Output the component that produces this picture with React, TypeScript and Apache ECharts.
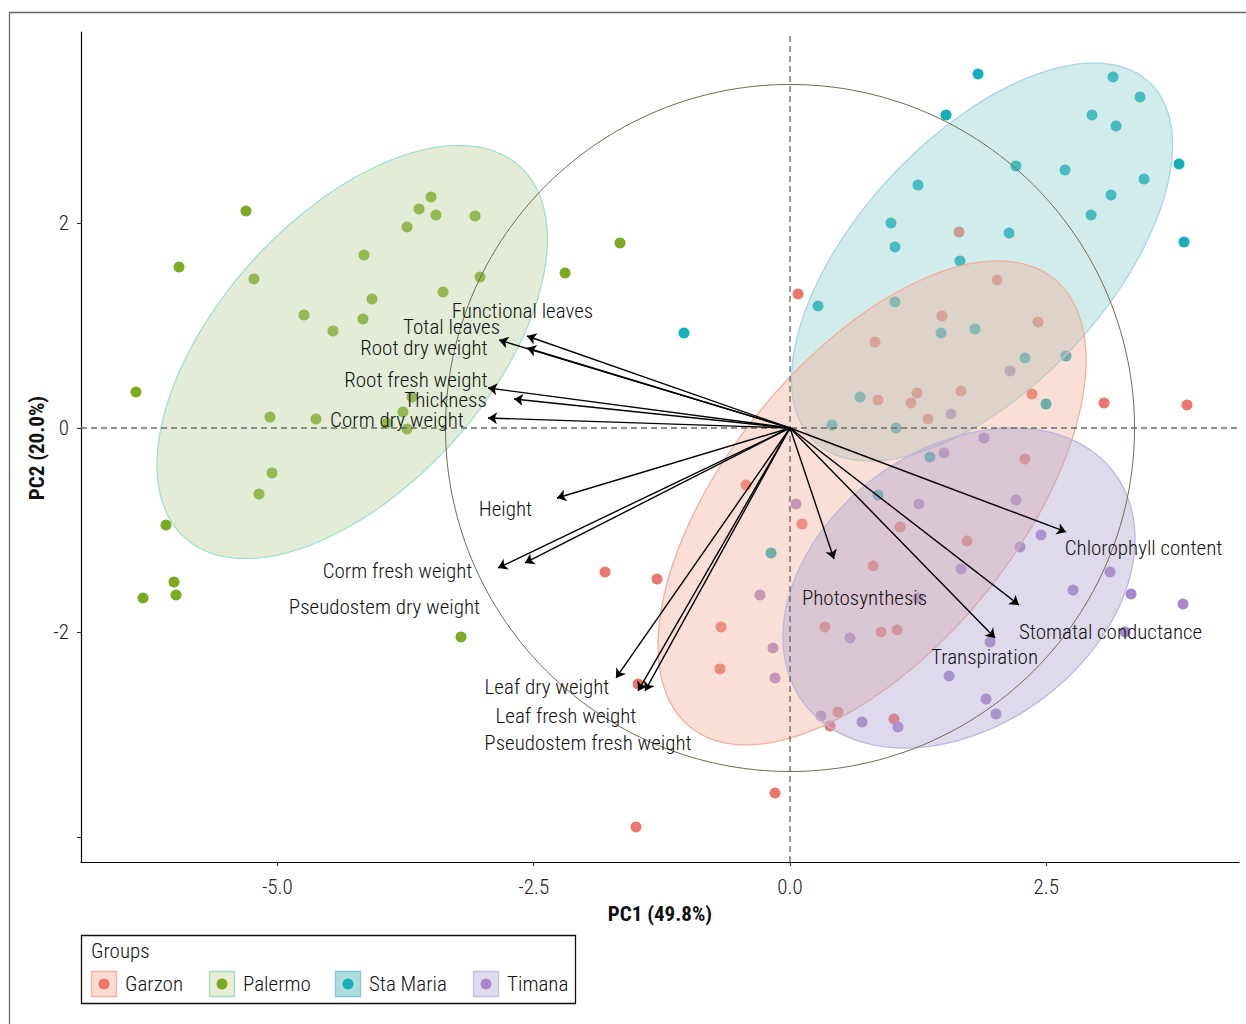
import { useEffect, useRef } from "react";
import * as echarts from "echarts";

// ---- groups -------------------------------------------------------------
const groupNames = ["Garzon", "Palermo", "Sta Maria", "Timana"];
const pointColors = ["#EB7770", "#7DAA24", "#16AFB8", "#A987CC"];

// PCA scores [PC1, PC2] per group
const garzonScores: number[][] = [
  [0.078, 1.311], [1.648, 1.917], [2.019, 1.447], [1.482, 1.095], [2.419, 1.037],
  [0.829, 0.841], [1.239, 0.342], [0.858, 0.274], [1.18, 0.245], [1.668, 0.362],
  [2.36, 0.333], [1.346, 0.088], [3.063, 0.245], [3.872, 0.225], [2.292, -0.303],
  [0.117, -0.939], [1.073, -0.968], [1.726, -1.105], [0.81, -1.35], [-0.429, -0.557],
  [-1.804, -1.408], [-1.297, -1.477], [-0.673, -1.946], [0.341, -1.946], [0.888, -1.995],
  [1.044, -1.976], [-0.683, -2.357], [-1.482, -2.504], [0.468, -2.778], [0.39, -2.914],
  [1.014, -2.846], [-0.146, -3.57], [-1.502, -3.902],
];
const palermoScores: number[][] = [
  [-5.306, 2.122], [-5.959, 1.575], [-6.379, 0.352], [-5.228, 1.457], [-3.501, 2.259],
  [-3.618, 2.142], [-3.453, 2.083], [-3.072, 2.073], [-3.735, 1.966], [-4.155, 1.692],
  [-3.023, 1.477], [-3.384, 1.33], [-4.077, 1.262], [-4.74, 1.105], [-4.165, 1.066],
  [-4.457, 0.949], [-5.072, 0.108], [-4.623, 0.088], [-3.775, 0.156], [-3.931, 0.049],
  [-3.735, -0.01], [-3.687, 0.303], [-2.194, 1.516], [-1.658, 1.809], [-5.052, -0.44],
  [-5.179, -0.645], [-6.086, -0.949], [-6.008, -1.506], [-6.31, -1.663], [-5.988, -1.633],
  [-3.209, -2.044],
];
const staMariaScores: number[][] = [
  [1.834, 3.462], [3.15, 3.433], [3.414, 3.237], [1.522, 3.061], [2.945, 3.061],
  [3.18, 2.954], [2.204, 2.562], [2.682, 2.523], [3.794, 2.582], [1.248, 2.377],
  [3.453, 2.435], [3.131, 2.279], [2.936, 2.083], [0.985, 2.005], [1.024, 1.77],
  [2.136, 1.907], [3.843, 1.819], [1.658, 1.633], [-1.034, 0.929], [0.273, 1.193],
  [1.024, 1.232], [1.473, 0.929], [1.804, 0.968], [2.292, 0.685], [2.692, 0.704],
  [0.683, 0.303], [2.497, 0.235], [0.41, 0.029], [1.034, 0.0], [1.365, -0.284],
  [0.858, -0.655], [-0.185, -1.222],
];
const timanaScores: number[][] = [
  [2.146, 0.557], [1.57, 0.137], [1.892, -0.098], [1.502, -0.245], [2.204, -0.704],
  [1.258, -0.743], [0.059, -0.743], [2.448, -1.046], [2.243, -1.164], [3.121, -1.408],
  [2.76, -1.584], [3.326, -1.623], [3.833, -1.721], [1.668, -1.379], [-0.293, -1.633],
  [1.248, -1.663], [0.585, -2.054], [-0.166, -2.152], [1.951, -2.093], [-0.146, -2.445],
  [1.551, -2.425], [1.912, -2.65], [2.009, -2.797], [0.302, -2.817], [0.702, -2.875],
  [1.053, -2.924], [3.267, -1.995],
];
const groupScores = [garzonScores, palermoScores, staMariaScores, timanaScores];

// ---- variable loadings (arrows) ----------------------------------------
const variableNames = [
  "Functional leaves", "Total leaves", "Root dry weight", "Root fresh weight",
  "Thickness", "Corm dry weight", "Height", "Corm fresh weight",
  "Pseudostem dry weight", "Leaf dry weight", "Leaf fresh weight",
  "Pseudostem fresh weight", "Photosynthesis", "Chlorophyll content",
  "Stomatal conductance", "Transpiration",
];
const loadingPC1 = [
  -2.565, -2.838, -2.565, -2.945, -2.692, -2.945, -2.273, -2.848,
  -2.585, -1.697, -1.482, -1.414, 0.429, 2.692, 2.233, 2.0,
];
const loadingPC2 = [
  0.9, 0.861, 0.782, 0.391, 0.284, 0.098, -0.685, -1.369,
  -1.32, -2.445, -2.572, -2.572, -1.281, -1.017, -1.731, -2.054,
];
// where each variable name is written (text centre, PC units)
const labelPC1 = [
  -2.609, -3.301, -3.57, -3.648, -3.36, -3.833, -2.775, -3.828,
  -3.955, -2.37, -2.185, -1.97, 0.727, 3.448, 3.126, 1.897,
];
const labelPC2 = [
  1.144, 0.988, 0.782, 0.469, 0.274, 0.078, -0.792, -1.399,
  -1.751, -2.533, -2.817, -3.081, -1.663, -1.174, -1.995, -2.24,
];

// ---- group ellipses: centre and covariance [sxx, sxy, syy] ------------
const ellipseCentre = [
  [0.8, -0.733], [-4.27, 0.743], [1.873, 1.623], [1.648, -1.565],
];
const ellipseCov = [
  [4.356, 2.909, 5.602], [3.625, 2.102, 4.08], [3.452, 2.127, 3.788], [2.947, 0.824, 2.449],
];
const ellipseOrder = [2, 0, 3, 1];
const ellipseFill = [
  "rgba(240,175,152,0.4)", "rgba(183,208,153,0.4)",
  "rgba(142,207,207,0.4)", "rgba(172,162,207,0.4)",
];
const ellipseStroke = ["#EFAF9C", "#A3DECF", "#A6D4E6", "#BEB6DD"];

const circleRadius = 3.36;

// ---- axes ---------------------------------------------------------------
const xMin = -6.915;
const xMax = 4.379;
const yMin = -4.245;
const yMax = 3.873;
const xTicks = [-5, -2.5, 0, 2.5];
const yTicks = [-4, -2, 0, 2];
const yTickLabels = [-2, 0, 2];

const legendKeyFill = ["#F9DDD3", "#E3EFD6", "#AEDFE0", "#E0DBEE"];
const legendKeyStroke = ["#F2B5A3", "#A6DDC8", "#82C6DC", "#C4BCE2"];

const FONT = '"Roboto Condensed", "Liberation Sans Narrow", "Arial Narrow", sans-serif';
const TEXT_SIZE = 21;
const TEXT_WEIGHT = 300;

export default function App() {
  const ref = useRef<HTMLDivElement>(null);

  useEffect(() => {
    if (!ref.current) return;
    const chart = echarts.init(ref.current, null, { renderer: "svg" });

    const scatterSeries = groupNames.map((name, g) => ({
      type: "scatter",
      name,
      data: groupScores[g],
      symbol: "circle",
      symbolSize: 11,
      itemStyle: { color: pointColors[g], opacity: 1 },
      z: 2,
      silent: true,
    }));

    const ellipseSeries = {
      type: "custom",
      z: 3,
      silent: true,
      data: ellipseOrder.map((g) => ellipseCentre[g]),
      renderItem: (params: any, api: any) => {
        const g = ellipseOrder[params.dataIndex];
        const [cx, cy] = ellipseCentre[g];
        const [sxx, sxy, syy] = ellipseCov[g];
        const l11 = Math.sqrt(sxx);
        const l21 = sxy / l11;
        const l22 = Math.sqrt(syy - l21 * l21);
        const pts: number[][] = [];
        const n = 160;
        for (let k = 0; k < n; k++) {
          const t = (2 * Math.PI * k) / n;
          const u = Math.cos(t);
          const v = Math.sin(t);
          pts.push(api.coord([cx + l11 * u, cy + l21 * u + l22 * v]));
        }
        return {
          type: "polygon",
          shape: { points: pts },
          style: { fill: ellipseFill[g], stroke: ellipseStroke[g], lineWidth: 1.3 },
        };
      },
    };

    const circleSeries = {
      type: "custom",
      z: 4,
      silent: true,
      data: [[0, 0]],
      renderItem: (_params: any, api: any) => {
        const pts: number[][] = [];
        const n = 240;
        for (let k = 0; k < n; k++) {
          const t = (2 * Math.PI * k) / n;
          pts.push(api.coord([circleRadius * Math.cos(t), circleRadius * Math.sin(t)]));
        }
        return {
          type: "polygon",
          shape: { points: pts },
          style: { fill: "none", stroke: "#716C50", lineWidth: 1 },
        };
      },
    };

    const zeroLineStyle = { color: "#6B6B6B", width: 1.4, type: [6, 4] as any };
    const zeroLines = [
      {
        type: "line",
        data: [[0, yMin], [0, yMax]],
        symbol: "none",
        lineStyle: zeroLineStyle,
        z: 4,
        silent: true,
      },
      {
        type: "line",
        data: [[xMin, 0], [xMax, 0]],
        symbol: "none",
        lineStyle: zeroLineStyle,
        z: 4,
        silent: true,
      },
    ];

    const arrowSeries = {
      type: "lines",
      coordinateSystem: "cartesian2d",
      z: 5,
      silent: true,
      symbol: ["none", "arrow"],
      symbolSize: [0, 9],
      lineStyle: { color: "#000000", width: 1.4, opacity: 1 },
      data: variableNames.map((_, i) => ({
        coords: [[0, 0], [loadingPC1[i], loadingPC2[i]]],
      })),
    };

    const labelSeries = {
      type: "custom",
      z: 6,
      silent: true,
      data: variableNames.map((_, i) => [labelPC1[i], labelPC2[i]]),
      renderItem: (params: any, api: any) => {
        const p = api.coord([api.value(0), api.value(1)]);
        return {
          type: "text",
          x: p[0],
          y: p[1],
          style: {
            text: variableNames[params.dataIndex],
            fill: "#111111",
            fontSize: TEXT_SIZE,
            fontWeight: TEXT_WEIGHT,
            fontFamily: FONT,
            align: "center",
            verticalAlign: "middle",
            textAlign: "center",
            textVerticalAlign: "middle",
          },
        };
      },
    };

    // legend drawn as graphic elements
    const keyX = [91, 209, 335, 473];
    const legendGraphics: any[] = [
      {
        type: "rect",
        shape: { x: 81.5, y: 935.5, width: 494, height: 68 },
        style: { fill: "#fff", stroke: "#111", lineWidth: 1.3 },
        silent: true,
      },
      {
        type: "text",
        x: 91,
        y: 951,
        style: {
          text: "Groups",
          fill: "#111111",
          fontSize: TEXT_SIZE,
          fontWeight: TEXT_WEIGHT,
          fontFamily: FONT,
          align: "left",
          verticalAlign: "middle",
          textAlign: "left",
          textVerticalAlign: "middle",
        },
        silent: true,
      },
    ];
    groupNames.forEach((name, g) => {
      legendGraphics.push({
        type: "rect",
        shape: { x: keyX[g] + 0.5, y: 971.5, width: 25, height: 25 },
        style: { fill: legendKeyFill[g], stroke: legendKeyStroke[g], lineWidth: 1.3 },
        silent: true,
      });
      legendGraphics.push({
        type: "circle",
        shape: { cx: keyX[g] + 13, cy: 984, r: 5.5 },
        style: { fill: pointColors[g] },
        silent: true,
      });
      legendGraphics.push({
        type: "text",
        x: keyX[g] + 34,
        y: 984,
        style: {
          text: name,
          fill: "#111111",
          fontSize: TEXT_SIZE,
          fontWeight: TEXT_WEIGHT,
          fontFamily: FONT,
          align: "left",
          verticalAlign: "middle",
          textAlign: "left",
          textVerticalAlign: "middle",
        },
        silent: true,
      });
    });

    chart.setOption({
      animation: false,
      backgroundColor: "#ffffff",
      grid: { left: 81, top: 32, width: 1158, height: 830, containLabel: false },
      xAxis: {
        type: "value",
        min: xMin,
        max: xMax,
        axisLine: { show: true, onZero: false, lineStyle: { color: "#000", width: 1.2 } },
        axisTick: { show: true, customValues: xTicks, length: 4, lineStyle: { color: "#333", width: 1.1 } },
        axisLabel: {
          customValues: xTicks,
          formatter: (v: number) => v.toFixed(1),
          fontSize: TEXT_SIZE,
          fontWeight: TEXT_WEIGHT,
          fontFamily: FONT,
          color: "#222",
          margin: 14,
        },
        splitLine: { show: false },
      },
      yAxis: {
        type: "value",
        min: yMin,
        max: yMax,
        axisLine: { show: true, onZero: false, lineStyle: { color: "#000", width: 1.2 } },
        axisTick: { show: true, customValues: yTicks, length: 4, lineStyle: { color: "#333", width: 1.1 } },
        axisLabel: {
          customValues: yTickLabels,
          formatter: (v: number) => String(v),
          fontSize: TEXT_SIZE,
          fontWeight: TEXT_WEIGHT,
          fontFamily: FONT,
          color: "#222",
          margin: 12,
        },
        splitLine: { show: false },
      },
      series: [...scatterSeries, ellipseSeries, ...zeroLines, circleSeries, arrowSeries, labelSeries],
      graphic: [
        {
          type: "rect",
          shape: { x: 9.5, y: 12.5, width: 1400, height: 1200 },
          style: { fill: "none", stroke: "#666", lineWidth: 1.3 },
          silent: true,
          z: -10,
        },
        {
          type: "text",
          x: 660,
          y: 914,
          style: {
            text: "PC1 (49.8%)",
            fill: "#111",
            fontSize: TEXT_SIZE,
            fontWeight: "bold",
            fontFamily: FONT,
            align: "center",
            verticalAlign: "middle",
            textAlign: "center",
            textVerticalAlign: "middle",
          },
          silent: true,
        },
        {
          type: "text",
          x: 37,
          y: 448,
          rotation: Math.PI / 2,
          style: {
            text: "PC2 (20.0%)",
            fill: "#111",
            fontSize: TEXT_SIZE,
            fontWeight: "bold",
            fontFamily: FONT,
            align: "center",
            verticalAlign: "middle",
            textAlign: "center",
            textVerticalAlign: "middle",
          },
          silent: true,
        },
        ...legendGraphics,
      ],
    });

    return () => chart.dispose();
  }, []);

  return (
    <div
      ref={ref}
      style={{ position: "fixed", left: 0, top: 0, width: 1246, height: 1024, background: "#fff" }}
    />
  );
}
